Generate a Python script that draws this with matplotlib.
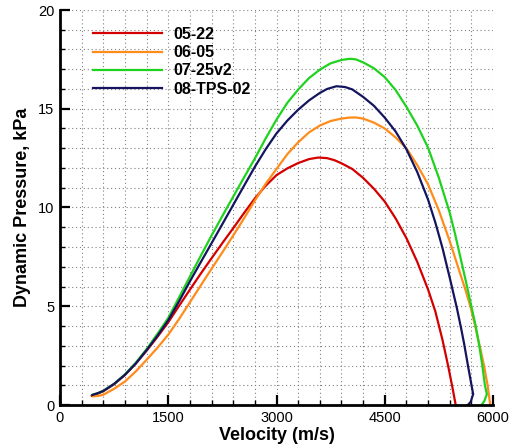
import matplotlib
matplotlib.use("Agg")
import matplotlib.pyplot as plt
from matplotlib.ticker import MultipleLocator

plt.rcParams['font.family'] = ['Liberation Sans', 'DejaVu Sans']

# velocity (m/s) and dynamic pressure (kPa)
v_0522 = [440, 520, 600, 750, 900, 1050, 1200, 1350, 1500, 1650, 1800, 1950,
          2100, 2250, 2400, 2550, 2700, 2850, 3000, 3150, 3300, 3450, 3580, 3700,
          3800, 3900, 4050, 4200, 4350, 4500, 4650, 4800, 4950, 5100, 5200, 5300,
          5380, 5440, 5483]
q_0522 = [0.47, 0.57, 0.70, 1.05, 1.52, 2.1, 2.75, 3.45, 4.19, 5.02, 5.84, 6.65,
          7.43, 8.2, 8.95, 9.72, 10.46, 11.1, 11.64, 11.98, 12.25, 12.45, 12.53, 12.5,
          12.4, 12.24, 11.95, 11.5, 10.95, 10.3, 9.45, 8.45, 7.25, 5.85, 4.75, 3.3,
          1.95, 0.85, 0.0]

v_0605 = [460, 530, 600, 750, 900, 1050, 1200, 1350, 1500, 1650, 1800, 1950,
          2100, 2250, 2400, 2550, 2700, 2850, 3000, 3150, 3300, 3450, 3600, 3750,
          3900, 4000, 4100, 4200, 4350, 4500, 4650, 4800, 4950, 5100, 5250, 5400,
          5475, 5550, 5625, 5690, 5750, 5815, 5875, 5925, 5962]
q_0605 = [0.44, 0.46, 0.52, 0.82, 1.19, 1.7, 2.29, 2.9, 3.56, 4.35, 5.2, 6.05,
          6.9, 7.73, 8.58, 9.45, 10.35, 11.2, 11.95, 12.7, 13.3, 13.8, 14.15, 14.38,
          14.5, 14.55, 14.56, 14.5, 14.3, 14.0, 13.55, 13.0, 12.15, 11.17, 9.85, 8.3,
          7.45, 6.6, 5.75, 4.95, 4.05, 3.0, 2.0, 1.0, 0.0]

v_0725 = [450, 525, 600, 750, 900, 1050, 1200, 1350, 1500, 1650, 1800, 1950,
          2100, 2250, 2400, 2550, 2700, 2850, 3000, 3150, 3300, 3450, 3600, 3750,
          3900, 4015, 4100, 4200, 4350, 4500, 4650, 4800, 4950, 5100, 5250, 5400,
          5475, 5550, 5625, 5700, 5760, 5810, 5852, 5888, 5915, 5880, 5840]
q_0725 = [0.52, 0.6, 0.72, 1.07, 1.55, 2.14, 2.83, 3.6, 4.41, 5.45, 6.5, 7.55,
          8.58, 9.57, 10.55, 11.52, 12.48, 13.5, 14.45, 15.3, 15.97, 16.55, 16.98, 17.3,
          17.47, 17.53, 17.5, 17.35, 17.05, 16.6, 15.95, 15.1, 14.15, 13.03, 11.5, 9.74,
          8.65, 7.45, 6.25, 5.0, 4.0, 3.0, 2.0, 1.0, 0.55, 0.2, 0.0]

v_08tps = [450, 525, 600, 750, 900, 1050, 1200, 1350, 1500, 1650, 1800, 1950,
           2100, 2250, 2400, 2550, 2700, 2850, 3000, 3150, 3300, 3450, 3600, 3700,
           3830, 3950, 4050, 4200, 4350, 4500, 4650, 4800, 4950, 5100, 5200, 5300,
           5400, 5500, 5560, 5600, 5660, 5700, 5725, 5690, 5650]
q_08tps = [0.51, 0.6, 0.71, 1.07, 1.53, 2.1, 2.78, 3.5, 4.29, 5.25, 6.26, 7.23,
           8.19, 9.16, 10.13, 11.1, 12.06, 12.95, 13.75, 14.4, 14.95, 15.42, 15.8, 16.0,
           16.14, 16.1, 15.98, 15.6, 15.15, 14.55, 13.85, 12.95, 11.8, 10.4, 9.25, 7.95,
           6.45, 4.9, 3.85, 3.1, 1.85, 1.05, 0.55, 0.15, 0.0]

labels = ['05-22', '06-05', '07-25v2', '08-TPS-02']
colors = ['#d40000', '#ff8c1a', '#1ed21e', '#14145f']

fig = plt.figure(figsize=(5.11, 4.44), dpi=100)
ax = fig.add_axes([60 / 511, 39 / 444, 433 / 511, 395 / 444])

series = [(v_0522, q_0522), (v_0605, q_0605), (v_0725, q_0725), (v_08tps, q_08tps)]
for (v, q), lab, c in zip(series, labels, colors):
    ax.plot(v, q, color=c, lw=1.6, label=lab)

ax.set_xlim(0, 6000)
ax.set_ylim(0, 20)
ax.xaxis.set_major_locator(MultipleLocator(1500))
ax.xaxis.set_minor_locator(MultipleLocator(300))
ax.yaxis.set_major_locator(MultipleLocator(5))
ax.yaxis.set_minor_locator(MultipleLocator(1))

ax.grid(True, which='both', color='#808080', lw=0.8, linestyle=(0, (1, 2.5)))
ax.set_axisbelow(True)

for s in ['top', 'right']:
    ax.spines[s].set_visible(False)
for s in ['left', 'bottom']:
    ax.spines[s].set_linewidth(2)

ax.tick_params(which='major', direction='in', length=7, width=1.6, labelsize=10.5, pad=4)
ax.tick_params(which='minor', direction='in', length=3.5, width=1)

ax.set_xlabel('Velocity (m/s)', fontsize=13, fontweight='bold', labelpad=2)
ax.set_ylabel('Dynamic Pressure, kPa', fontsize=13, fontweight='bold', labelpad=5)

leg = ax.legend(loc='upper left', bbox_to_anchor=(0.076, 0.957), frameon=False,
                borderpad=0, borderaxespad=0, handlelength=4.3, handletextpad=0.75,
                labelspacing=0.2, prop={'size': 11.5, 'weight': 'bold'})

fig.savefig('out.png', dpi=100)
